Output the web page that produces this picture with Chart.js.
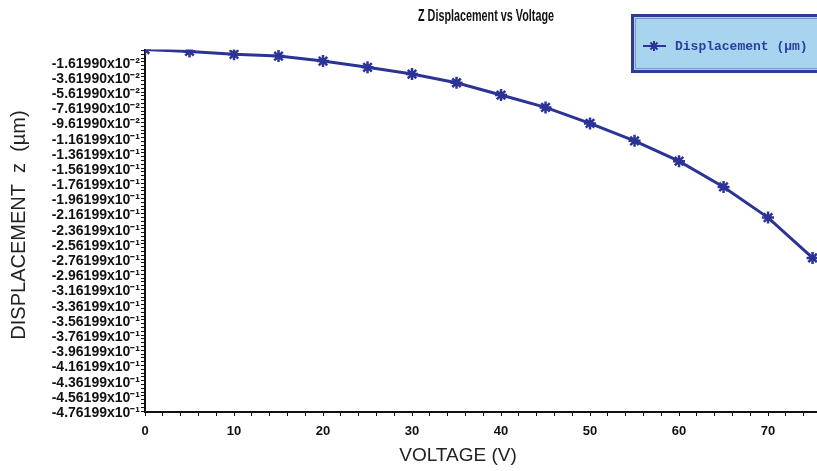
<!DOCTYPE html>
<html>
<head>
<meta charset="utf-8">
<script src="https://cdn.jsdelivr.net/npm/chart.js@4.4.1/dist/chart.umd.min.js"></script>
<style>
  html, body { margin: 0; padding: 0; background: #fff; }
  canvas { display: block; }
</style>
</head>
<body>
<canvas id="chart" width="817" height="471"></canvas>
<script>
// --- data ---
const voltages = [0, 5, 10, 15, 20, 25, 30, 35, 40, 45, 50, 55, 60, 65, 70, 75];
const displacement = [0, -0.0025, -0.0063, -0.0086, -0.0152, -0.0235, -0.0323, -0.0438,
    -0.0600, -0.0763, -0.0974, -0.1203, -0.1471, -0.1810, -0.2214, -0.2745];

const yTickValues = [-0.016199, -0.036199, -0.056199, -0.076199, -0.096199, -0.116199,
    -0.136199, -0.156199, -0.176199, -0.196199, -0.216199, -0.236199, -0.256199, -0.276199,
    -0.296199, -0.316199, -0.336199, -0.356199, -0.376199, -0.396199, -0.416199, -0.436199,
    -0.456199, -0.476199];
const yTickLabels = ['-1.61990x10⁻²', '-3.61990x10⁻²', '-5.61990x10⁻²', '-7.61990x10⁻²',
    '-9.61990x10⁻²', '-1.16199x10⁻¹', '-1.36199x10⁻¹', '-1.56199x10⁻¹', '-1.76199x10⁻¹',
    '-1.96199x10⁻¹', '-2.16199x10⁻¹', '-2.36199x10⁻¹', '-2.56199x10⁻¹', '-2.76199x10⁻¹',
    '-2.96199x10⁻¹', '-3.16199x10⁻¹', '-3.36199x10⁻¹', '-3.56199x10⁻¹', '-3.76199x10⁻¹',
    '-3.96199x10⁻¹', '-4.16199x10⁻¹', '-4.36199x10⁻¹', '-4.56199x10⁻¹', '-4.76199x10⁻¹'];
const xTickLabels = [0, 10, 20, 30, 40, 50, 60, 70];

const chartTitle = 'Z Displacement vs Voltage';
const xTitle = 'VOLTAGE (V)';
const yTitle = 'DISPLACEMENT  z  (µm)';
const seriesName = 'Displacement (µm)';
const blue = '#2c3396';

// titles: the original uses a condensed bold face for the header
const titles = {
    id: 'titles',
    afterDraw(chart) {
        const ctx = chart.ctx;
        ctx.save();
        ctx.fillStyle = '#111';
        ctx.textAlign = 'center';
        ctx.textBaseline = 'middle';
        ctx.font = 'bold 16px "Liberation Sans", Arial';
        ctx.translate(486, 17);
        ctx.scale(0.675, 1);
        ctx.fillText(chartTitle, 0, 0);
        ctx.restore();

        ctx.save();
        ctx.fillStyle = '#222';
        ctx.textAlign = 'center';
        ctx.textBaseline = 'middle';
        ctx.font = '19px "Liberation Sans", Arial';
        ctx.fillText(xTitle, 458, 456);
        ctx.translate(19, 225);
        ctx.rotate(-Math.PI / 2);
        ctx.font = '20px "Liberation Sans", Arial';
        ctx.fillText(yTitle, 0, 0);
        ctx.restore();
    }
};

// legend box in the top right corner, like the original export
const legendBox = {
    id: 'legendBox',
    afterDraw(chart) {
        const ctx = chart.ctx;
        ctx.save();
        ctx.fillStyle = '#a9d4ef';
        ctx.fillRect(631, 14, 200, 59);
        ctx.strokeStyle = '#2d3a96';
        ctx.lineWidth = 3;
        ctx.strokeRect(632.5, 15.5, 200, 56);
        ctx.strokeStyle = '#7f95cf';
        ctx.lineWidth = 1;
        ctx.strokeRect(635.5, 18.5, 200, 50);

        ctx.strokeStyle = blue;
        ctx.fillStyle = blue;
        ctx.lineWidth = 2;
        ctx.beginPath();
        ctx.moveTo(643, 46);
        ctx.lineTo(666, 46);
        ctx.stroke();
        Chart.helpers.drawPoint(ctx, { pointStyle: 'star', radius: 5, borderWidth: 2 }, 654, 46);

        ctx.fillStyle = '#2b3f9a';
        ctx.font = 'bold 13px "Liberation Mono", "DejaVu Sans Mono", monospace';
        ctx.textBaseline = 'middle';
        ctx.fillText(seriesName, 675, 47);
        ctx.restore();
    }
};

const ctx = document.getElementById('chart').getContext('2d');
new Chart(ctx, {
    type: 'line',
    data: {
        labels: voltages,
        datasets: [{
            label: seriesName,
            data: voltages.map((v, i) => ({ x: v, y: displacement[i] })),
            borderColor: blue,
            backgroundColor: blue,
            borderWidth: 3,
            tension: 0,
            pointStyle: 'star',
            pointRadius: 6,
            pointBorderWidth: 2.5,
            pointBorderColor: blue
        }]
    },
    options: {
        responsive: false,
        animation: false,
        layout: {
            autoPadding: false,
            padding: { top: 49.5, right: 0, bottom: 0, left: 0 }
        },
        plugins: {
            legend: { display: false },
            tooltip: { enabled: false },
            title: { display: false }
        },
        scales: {
            x: {
                type: 'linear',
                min: 0,
                max: 75.5,
                afterFit: (scale) => {
                    scale.height = 59;
                    scale.paddingLeft = 0;
                    scale.paddingRight = 0;
                },
                border: { display: true, color: '#111', width: 2 },
                grid: { drawOnChartArea: false, drawTicks: true, tickLength: 4, color: '#111' },
                ticks: {
                    stepSize: 2,
                    autoSkip: false,
                    includeBounds: false,
                    maxRotation: 0,
                    padding: 8,
                    color: '#111',
                    font: { family: '"Liberation Sans", Arial', size: 13, weight: 'bold' },
                    callback: (v) => xTickLabels.includes(v) ? String(v) : ''
                }
            },
            y: {
                type: 'linear',
                min: -0.4775,
                max: 0,
                afterFit: (scale) => {
                    scale.width = 145;
                    scale.paddingTop = 0;
                    scale.paddingBottom = 0;
                },
                afterBuildTicks: (scale) => {
                    const vals = [];
                    yTickValues.forEach(v => {
                        vals.push(v);
                        [0.005, 0.01, 0.015].forEach(d => { if (v + d <= 0) vals.push(v + d); });
                    });
                    vals.sort((a, b) => a - b);
                    scale.ticks = vals.map(v => ({ value: v }));
                },
                border: { display: true, color: '#111', width: 2 },
                grid: { drawOnChartArea: false, drawTicks: true, tickLength: 4, color: '#111' },
                ticks: {
                    autoSkip: false,
                    padding: 1,
                    labelOffset: 2,
                    color: '#111',
                    font: { family: '"Liberation Sans", Arial', size: 14, weight: 'bold' },
                    callback: (v) => {
                        const i = yTickValues.findIndex(t => Math.abs(t - v) < 1e-9);
                        return i >= 0 ? yTickLabels[i] : '';
                    }
                }
            }
        }
    },
    plugins: [titles, legendBox]
});
</script>
</body>
</html>
